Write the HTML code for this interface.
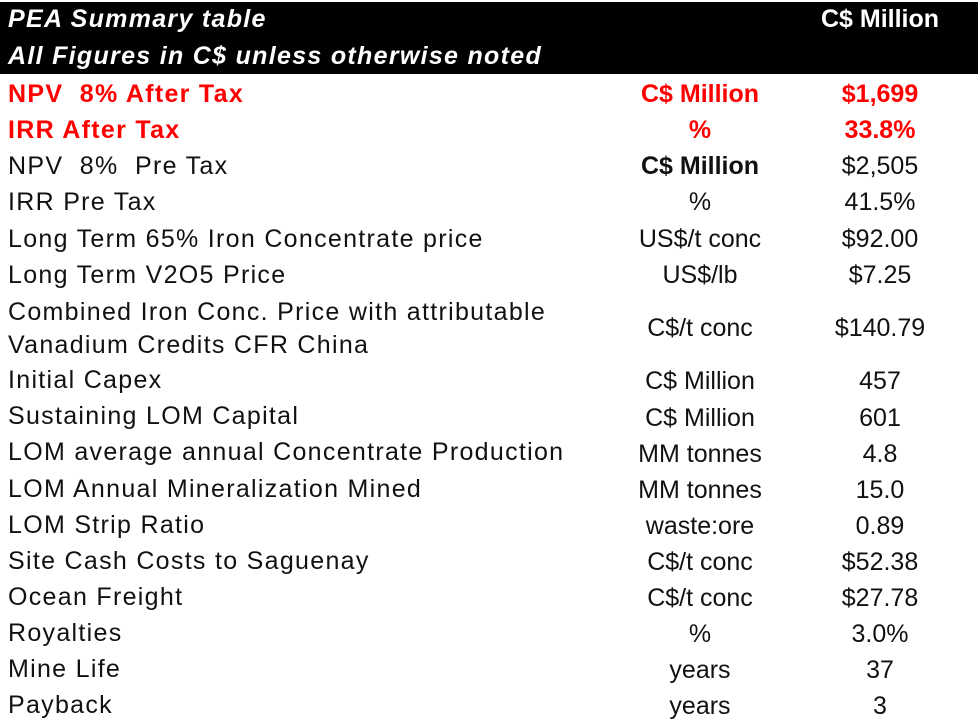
<!DOCTYPE html>
<html><head><style>
body{margin:0;width:980px;height:726px;background:#fff;position:relative;overflow:hidden;font-family:"Liberation Sans",Arial,sans-serif;}
.hd{position:absolute;left:0;top:2px;width:978px;height:72px;background:#000;}
.t{position:absolute;font-size:25px;line-height:30px;white-space:nowrap;color:#111;}
.l{left:8px;letter-spacing:1.3px;}
.u{left:600px;width:200px;text-align:center;}
.v{left:800px;width:160px;text-align:center;}
.w{color:#fff;font-weight:bold;font-style:italic;}
.r{color:#f00;font-weight:bold;}
</style></head><body>
<div class="hd"></div>
<div class="t w l" style="top:4px">PEA Summary table</div>
<div class="t w v" style="top:4px;font-style:normal">C$ Million</div>
<div class="t w l" style="top:41px">All Figures in C$ unless otherwise noted</div>

<div class="t r l" style="top:79px">NPV&nbsp; 8% After Tax</div><div class="t r u" style="top:79px">C$ Million</div><div class="t r v" style="top:79px">$1,699</div>
<div class="t r l" style="top:115px">IRR After Tax</div><div class="t r u" style="top:115px">%</div><div class="t r v" style="top:115px">33.8%</div>
<div class="t l" style="top:151px">NPV&nbsp; 8%&nbsp; Pre Tax</div><div class="t u" style="top:151px;font-weight:bold">C$ Million</div><div class="t v" style="top:151px">$2,505</div>
<div class="t l" style="top:187px">IRR Pre Tax</div><div class="t u" style="top:187px">%</div><div class="t v" style="top:187px">41.5%</div>
<div class="t l" style="top:224px">Long Term 65% Iron Concentrate price</div><div class="t u" style="top:224px">US$/t conc</div><div class="t v" style="top:224px">$92.00</div>
<div class="t l" style="top:260px">Long Term V2O5 Price</div><div class="t u" style="top:260px">US$/lb</div><div class="t v" style="top:260px">$7.25</div>
<div class="t l" style="top:297px">Combined Iron Conc. Price with attributable</div>
<div class="t l" style="top:330px">Vanadium Credits CFR China</div><div class="t u" style="top:313px">C$/t conc</div><div class="t v" style="top:313px">$140.79</div>
<div class="t l" style="top:365px">Initial Capex</div><div class="t u" style="top:366px">C$ Million</div><div class="t v" style="top:366px">457</div>
<div class="t l" style="top:401px">Sustaining LOM Capital</div><div class="t u" style="top:403px">C$ Million</div><div class="t v" style="top:403px">601</div>
<div class="t l" style="top:437px">LOM average annual Concentrate Production</div><div class="t u" style="top:439px">MM tonnes</div><div class="t v" style="top:439px">4.8</div>
<div class="t l" style="top:474px">LOM Annual Mineralization Mined</div><div class="t u" style="top:475px">MM tonnes</div><div class="t v" style="top:475px">15.0</div>
<div class="t l" style="top:510px">LOM Strip Ratio</div><div class="t u" style="top:511px">waste:ore</div><div class="t v" style="top:511px">0.89</div>
<div class="t l" style="top:546px">Site Cash Costs to Saguenay</div><div class="t u" style="top:547px">C$/t conc</div><div class="t v" style="top:547px">$52.38</div>
<div class="t l" style="top:582px">Ocean Freight</div><div class="t u" style="top:583px">C$/t conc</div><div class="t v" style="top:583px">$27.78</div>
<div class="t l" style="top:618px">Royalties</div><div class="t u" style="top:619px">%</div><div class="t v" style="top:619px">3.0%</div>
<div class="t l" style="top:654px">Mine Life</div><div class="t u" style="top:655px">years</div><div class="t v" style="top:655px">37</div>
<div class="t l" style="top:690px">Payback</div><div class="t u" style="top:691px">years</div><div class="t v" style="top:691px">3</div>
</body></html>
